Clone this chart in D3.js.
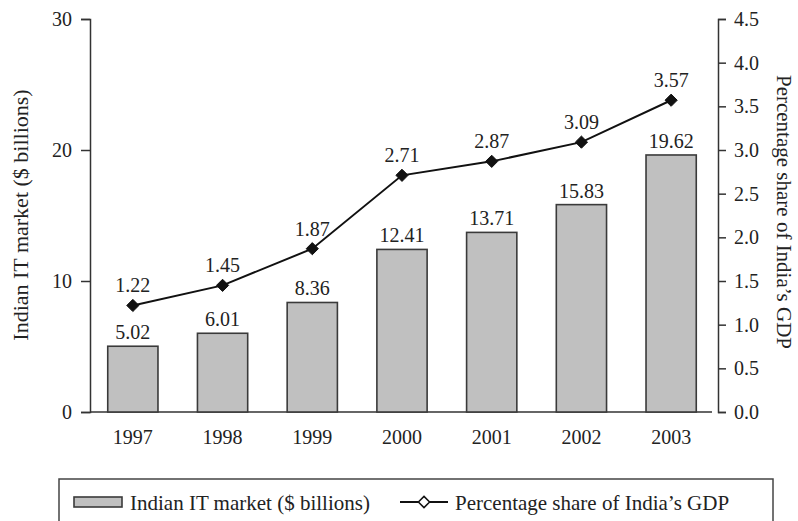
<!DOCTYPE html>
<html>
<head>
<meta charset="utf-8">
<script src="https://cdn.jsdelivr.net/npm/d3@7"></script>
<style>
  body { margin: 0; background: #fff; }
  svg text { font-family: "Liberation Serif", "DejaVu Serif", serif; fill: #222; }
</style>
</head>
<body>
<svg id="chart" width="798" height="521"></svg>
<script>
const years = ['1997', '1998', '1999', '2000', '2001', '2002', '2003'];
const marketValues = [5.02, 6.01, 8.36, 12.41, 13.71, 15.83, 19.62];
const gdpShare = [1.22, 1.45, 1.87, 2.71, 2.87, 3.09, 3.57];
const leftTicks = [0, 10, 20, 30];
const rightTicks = [0, 0.5, 1, 1.5, 2, 2.5, 3, 3.5, 4, 4.5];

const svg = d3.select('#chart');
const plotLeft = 90, plotRight = 718, plotTop = 19, plotBottom = 412;
const FONT = 20;

const x = d3.scaleBand().domain(years).range([88, 716]).paddingInner(0.44).paddingOuter(0.22);
const yLeft = d3.scaleLinear().domain([0, 30]).range([plotBottom, plotTop]);
const yRight = d3.scaleLinear().domain([0, 4.5]).range([plotBottom, plotTop]);

// baseline
svg.append('line')
    .attr('x1', plotLeft).attr('x2', 712)
    .attr('y1', plotBottom).attr('y2', plotBottom)
    .attr('stroke', '#333').attr('stroke-width', 1.5);

// bars
svg.append('g').selectAll('rect')
    .data(marketValues)
    .join('rect')
    .attr('x', (d, i) => x(years[i]))
    .attr('y', d => yLeft(d))
    .attr('width', x.bandwidth())
    .attr('height', d => plotBottom - yLeft(d))
    .attr('fill', '#c0c0c0')
    .attr('stroke', '#3a3a3a')
    .attr('stroke-width', 1.6);

svg.append('g').selectAll('text')
    .data(marketValues)
    .join('text')
    .attr('x', (d, i) => x(years[i]) + x.bandwidth() / 2)
    .attr('y', d => yLeft(d) - 7)
    .attr('text-anchor', 'middle')
    .attr('font-size', FONT)
    .text(d => d.toFixed(2));

// left axis
const axL = svg.append('g')
    .attr('transform', `translate(${plotLeft},0)`)
    .call(d3.axisLeft(yLeft).tickValues(leftTicks).tickSize(9).tickPadding(9));
axL.selectAll('text').attr('font-size', FONT).style('font-family', '"Liberation Serif", serif');

// right axis
const axR = svg.append('g')
    .attr('transform', `translate(${plotRight},0)`)
    .call(d3.axisRight(yRight).tickValues(rightTicks).tickFormat(d3.format('.1f')).tickSize(8).tickPadding(8));
axR.selectAll('text').attr('font-size', FONT).style('font-family', '"Liberation Serif", serif');

[axL, axR].forEach(ax => {
    ax.select('.domain').attr('stroke', '#333').attr('stroke-width', 1.5);
    ax.selectAll('.tick line').attr('stroke', '#333').attr('stroke-width', 1.5);
});

// year labels
svg.append('g').selectAll('text')
    .data(years)
    .join('text')
    .attr('x', d => x(d) + x.bandwidth() / 2)
    .attr('y', plotBottom + 32)
    .attr('text-anchor', 'middle')
    .attr('font-size', FONT)
    .text(d => d);

// axis titles
svg.append('text')
    .attr('transform', 'translate(28,215) rotate(-90)')
    .attr('text-anchor', 'middle')
    .attr('font-size', 22)
    .text('Indian IT market ($ billions)');

svg.append('text')
    .attr('transform', 'translate(777,212) rotate(90)')
    .attr('text-anchor', 'middle')
    .attr('font-size', 21)
    .text('Percentage share of India\u2019s GDP');

// line
const cx = i => x(years[i]) + x.bandwidth() / 2;
const line = d3.line().x((d, i) => cx(i)).y(d => yRight(d));
svg.append('path')
    .datum(gdpShare)
    .attr('d', line)
    .attr('fill', 'none')
    .attr('stroke', '#111')
    .attr('stroke-width', 2);

svg.append('g').selectAll('path')
    .data(gdpShare)
    .join('path')
    .attr('d', d3.symbol(d3.symbolDiamond2, 95))
    .attr('transform', (d, i) => `translate(${cx(i)},${yRight(d)})`)
    .attr('fill', '#111')
    .attr('stroke', '#111')
    .attr('stroke-width', 1);

svg.append('g').selectAll('text')
    .data(gdpShare)
    .join('text')
    .attr('x', (d, i) => cx(i))
    .attr('y', d => yRight(d) - 13)
    .attr('text-anchor', 'middle')
    .attr('font-size', FONT)
    .text(d => d.toFixed(2));

// legend
const lg = svg.append('g');
lg.append('rect')
    .attr('x', 59).attr('y', 479)
    .attr('width', 714).attr('height', 60)
    .attr('fill', 'none').attr('stroke', '#444').attr('stroke-width', 1.5);
lg.append('rect')
    .attr('x', 74).attr('y', 497)
    .attr('width', 48).attr('height', 10)
    .attr('fill', '#c0c0c0').attr('stroke', '#3a3a3a').attr('stroke-width', 1.6);
lg.append('text')
    .attr('x', 130).attr('y', 510)
    .attr('font-size', 21)
    .text('Indian IT market ($ billions)');
lg.append('line')
    .attr('x1', 400).attr('x2', 448).attr('y1', 502).attr('y2', 502)
    .attr('stroke', '#111').attr('stroke-width', 2);
lg.append('path')
    .attr('d', d3.symbol(d3.symbolDiamond2, 80))
    .attr('transform', 'translate(424,502)')
    .attr('fill', '#fff').attr('stroke', '#111').attr('stroke-width', 1.5);
lg.append('text')
    .attr('x', 455).attr('y', 510)
    .attr('font-size', 21)
    .text('Percentage share of India\u2019s GDP');
</script>
</body>
</html>
